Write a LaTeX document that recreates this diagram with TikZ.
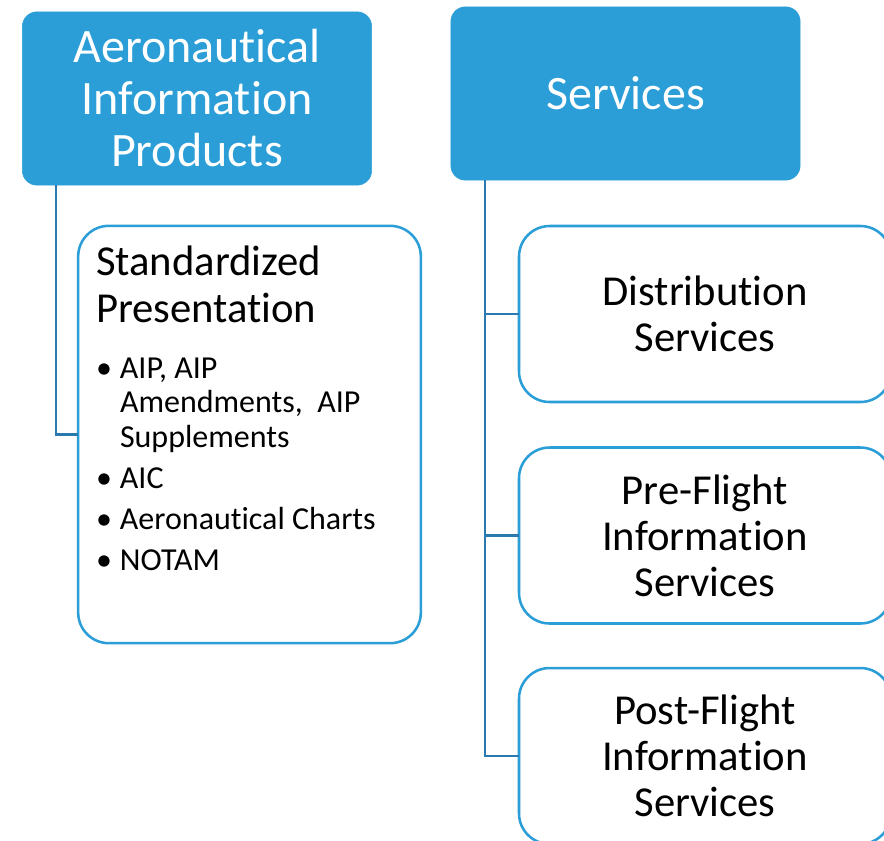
\documentclass[tikz,border=0pt]{standalone}
\usepackage{fontspec}
\setmainfont{Carlito}[Ligatures=NoCommon]
\usetikzlibrary{positioning}
\definecolor{aBlue}{HTML}{2B9ED8}
\definecolor{aLine}{HTML}{2A7AB0}

\begin{document}
\begin{tikzpicture}[
  x=0.75pt, y=-0.75pt,
  every node/.style={inner sep=0pt, outer sep=0pt},
  headbox/.style={fill=aBlue, draw=aBlue, rounded corners=11pt,
                  minimum width=262pt, minimum height=130pt,
                  text=white, align=center,
                  font=\fontsize{36}{39}\selectfont},
  subbox/.style={draw=aBlue, fill=white, line width=1.9pt, rounded corners=23pt,
                 minimum width=279pt, minimum height=132pt,
                 align=center, font=\fontsize{32}{34.5}\selectfont},
  link/.style={draw=aLine, line width=2.2pt},
]
  \useasboundingbox (0,0) rectangle (884,840);
  \begin{scope}
  \clip (0,0) rectangle (884,840);

  % Products column
  \node[headbox] (prod) at (197,98.5) {Aeronautical\\Information\\Products};
  \node[subbox, minimum width=257pt, minimum height=313pt] (pres) at (249.5,434.5) {};
  \node[anchor=base west, align=left, font=\fontsize{32}{35}\selectfont]
    (prestitle) at (96,322) {Standardized\\Presentation};
  \node[anchor=base west, font=\fontsize{24}{26}\selectfont] (prelist) at (96,378) {%
    \begin{minipage}[t]{240pt}
    \setlength{\parskip}{4.8pt}%
    \hangindent=18pt\hangafter=1\noindent\makebox[18pt][l]{\textbullet}AIP, AIP\\Amendments,\ \ AIP\\Supplements\par
    \hangindent=18pt\hangafter=1\noindent\makebox[18pt][l]{\textbullet}AIC\par
    \hangindent=18pt\hangafter=1\noindent\makebox[18pt][l]{\textbullet}Aeronautical Charts\par
    \hangindent=18pt\hangafter=1\noindent\makebox[18pt][l]{\textbullet}NOTAM\par
    \end{minipage}};

  % Services column
  \node[headbox] (serv) at (625.5,93.5) {Services};
  \node[subbox] (dist) at (705,314) {Distribution\\Services};
  \node[subbox] (pre) at (705,535.5) {Pre-Flight\\Information\\Services};
  \node[subbox] (post) at (705,756) {Post-Flight\\Information\\Services};

  % Connectors
  \coordinate (pj) at (56,0 |- prod.south);
  \draw[link] (pj) |- (pres.west);
  \coordinate (sj) at (485,0 |- serv.south);
  \draw[link] (sj) |- (post.west);
  \draw[link] (sj |- dist.west) -- (dist.west);
  \draw[link] (sj |- pre.west) -- (pre.west);
  \end{scope}
\end{tikzpicture}
\end{document}
